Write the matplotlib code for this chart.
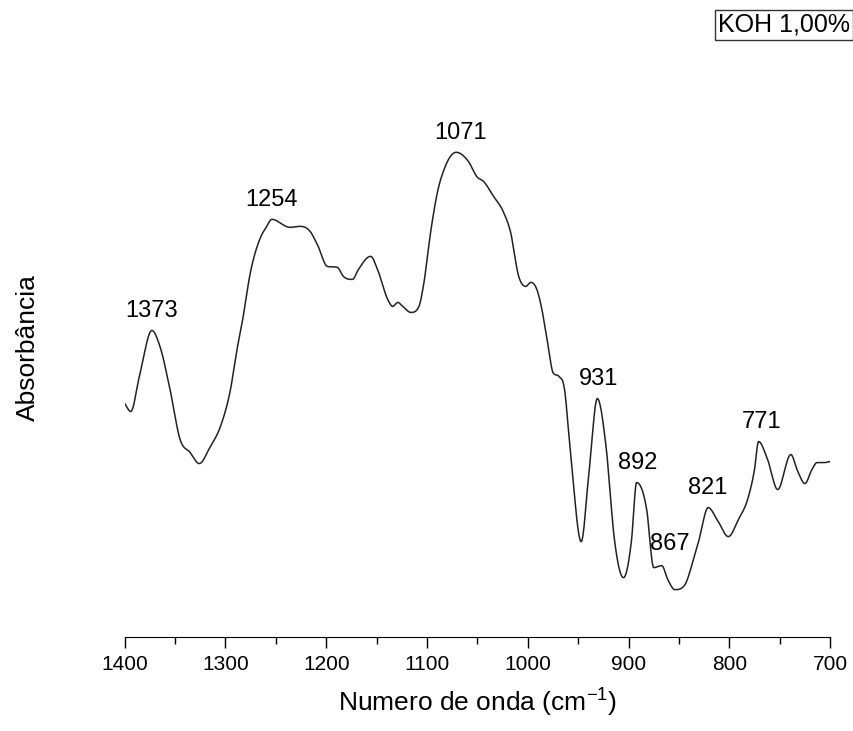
import numpy as np
import matplotlib
matplotlib.use("Agg")
import matplotlib.pyplot as plt
from matplotlib.ticker import MultipleLocator

plt.rcParams["font.family"] = ["Liberation Sans", "DejaVu Sans"]

# FTIR spectrum, KOH 1,00 % (wavenumber in cm-1, absorbance in a.u.)
wavenumber = [1400, 1394, 1385, 1373, 1365, 1355, 1345, 1335, 1326, 1315,
              1305, 1295, 1288, 1282, 1276, 1266, 1259, 1254, 1236, 1226,
              1216, 1208, 1199, 1189, 1183, 1174, 1168, 1156, 1148, 1139,
              1134, 1129, 1124, 1116, 1108, 1103, 1096, 1089, 1083, 1071,
              1059, 1050, 1044, 1034, 1024, 1017, 1009, 1002, 997, 991,
              985, 980, 975, 969, 964, 957, 947, 939, 931, 922,
              914, 905, 897, 892, 882, 875, 867, 861, 854, 844,
              837, 830, 821, 811, 801, 791, 781, 775, 771, 762,
              752, 739, 732, 725, 718, 713, 705, 700]
absorbance = [0.233, 0.225, 0.262, 0.306, 0.290, 0.247, 0.197, 0.184, 0.173, 0.190,
              0.210, 0.247, 0.290, 0.322, 0.360, 0.397, 0.410, 0.417, 0.409, 0.410,
              0.405, 0.390, 0.370, 0.369, 0.360, 0.357, 0.367, 0.380, 0.364, 0.337,
              0.330, 0.334, 0.330, 0.324, 0.330, 0.354, 0.407, 0.447, 0.467, 0.484,
              0.475, 0.459, 0.455, 0.440, 0.424, 0.404, 0.360, 0.350, 0.354, 0.347,
              0.322, 0.292, 0.264, 0.260, 0.250, 0.177, 0.095, 0.167, 0.238, 0.187,
              0.097, 0.059, 0.097, 0.154, 0.127, 0.069, 0.071, 0.057, 0.047, 0.052,
              0.072, 0.097, 0.129, 0.115, 0.100, 0.117, 0.140, 0.167, 0.195, 0.177,
              0.147, 0.182, 0.165, 0.153, 0.167, 0.174, 0.174, 0.175]

peak_positions = [1373, 1254, 1071, 931, 892, 867, 821, 771]
peak_labels = ["1373", "1254", "1071", "931", "892", "867", "821", "771"]
label_offsets = [(0, 6), (0, 6), (3, 6), (1, 6), (1, 6), (6, 8), (0, 6), (2, 6)]


def smooth_curve(x, y, n=2000):
    # cubic Hermite through the points; flat tangent at local extrema
    x = np.asarray(x, float)[::-1]
    y = np.asarray(y, float)[::-1]
    d = np.diff(y) / np.diff(x)
    m = np.gradient(y, x)
    for k in range(1, len(x) - 1):
        if d[k - 1] * d[k] <= 0:
            m[k] = 0.0
        else:
            lim = 3 * min(abs(d[k - 1]), abs(d[k]))
            m[k] = np.sign(m[k]) * min(abs(m[k]), lim)
    xs = np.linspace(x[0], x[-1], n)
    idx = np.clip(np.searchsorted(x, xs) - 1, 0, len(x) - 2)
    h = x[idx + 1] - x[idx]
    t = (xs - x[idx]) / h
    h00 = 2 * t**3 - 3 * t**2 + 1
    h10 = t**3 - 2 * t**2 + t
    h01 = -2 * t**3 + 3 * t**2
    h11 = t**3 - t**2
    ys = h00 * y[idx] + h10 * h * m[idx] + h01 * y[idx + 1] + h11 * h * m[idx + 1]
    return xs, ys


xs, ys = smooth_curve(wavenumber, absorbance)

fig = plt.figure(figsize=(8.54, 7.31), dpi=100)
ax = fig.add_axes([0.146, 0.129, 0.826, 0.79])

ax.plot(xs, ys, color="#222222", lw=1.1)

for pos, lab, off in zip(peak_positions, peak_labels, label_offsets):
    yv = np.interp(pos, xs, ys)
    ax.annotate(lab, (pos, yv), xytext=off, textcoords="offset points",
                ha="center", va="bottom", fontsize=17)

ax.set_xlim(1400, 700)
ax.set_ylim(0.0, 0.577)
ax.xaxis.set_major_locator(MultipleLocator(100))
ax.xaxis.set_minor_locator(MultipleLocator(50))
ax.tick_params(axis="x", which="major", length=8, width=1, labelsize=15, pad=5)
ax.tick_params(axis="x", which="minor", length=5, width=1)
ax.set_yticks([])
for side in ("top", "right", "left"):
    ax.spines[side].set_visible(False)

ax.set_xlabel("Numero de onda (cm$^{\\mathregular{-1}}$)", fontsize=19, labelpad=8)
ax.set_ylabel("Absorbância", fontsize=19)
ax.yaxis.set_label_coords(-0.12, 0.5)

fig.text(0.995, 0.966, "KOH 1,00%", ha="right", va="center", fontsize=18,
         bbox=dict(boxstyle="square,pad=0.12", fc="white", ec="#333333", lw=1))

fig.savefig("out.png", dpi=100)
